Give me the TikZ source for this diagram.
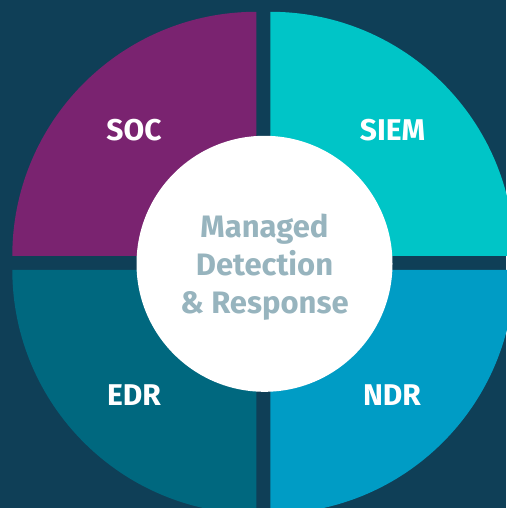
\documentclass[tikz,border=0pt]{standalone}
\usepackage{fontspec}
\setmainfont{Fira Sans}
\definecolor{bgnavy}{HTML}{0F3F57}
\definecolor{socpurple}{HTML}{7A2370}
\definecolor{siemcyan}{HTML}{00C5C7}
\definecolor{edrteal}{HTML}{00687F}
\definecolor{ndrblue}{HTML}{009CC5}
\definecolor{hubtext}{HTML}{97B4BE}

\begin{document}
\begin{tikzpicture}[x=1pt,y=1pt,
 quarter/.style={fill=#1},
 lbl/.style={text=white,font=\fontsize{30}{36}\selectfont\bfseries,anchor=center},
 hub/.style={circle,fill=white,minimum size=256pt,inner sep=0pt},
 hubtxt/.style={align=center,text=hubtext,font=\fontsize{31}{38}\selectfont\bfseries}]
  \fill[bgnavy] (0,0) rectangle (506,508);
  \useasboundingbox (0,0) rectangle (506,508);

  \fill[quarter=socpurple] (256.3,252.2) -- ++(-244,0) arc[start angle=180,end angle=90,radius=244] -- cycle;
  \fill[quarter=siemcyan] (270.3,252.2) -- ++(0,244) arc[start angle=90,end angle=0,radius=244] -- cycle;
  \fill[quarter=edrteal] (256.3,238.2) -- ++(0,-244) arc[start angle=270,end angle=180,radius=244] -- cycle;
  \fill[quarter=ndrblue] (270.3,238.2) -- ++(244,0) arc[start angle=0,end angle=-90,radius=244] -- cycle;

  \node[hub] (hub) at (264.5,244.2) {};
  \node[hubtxt] (mdr) at ([yshift=-3pt]hub.center) {Managed\\Detection\\\& Response};

  \node[lbl] (soc) at (134,377.5) {SOC};
  \node[lbl] (siem) at (392.5,377.5) {SIEM};
  \node[lbl] (edr) at (134,112.5) {EDR};
  \node[lbl] (ndr) at (392,112.5) {NDR};
\end{tikzpicture}
\end{document}
